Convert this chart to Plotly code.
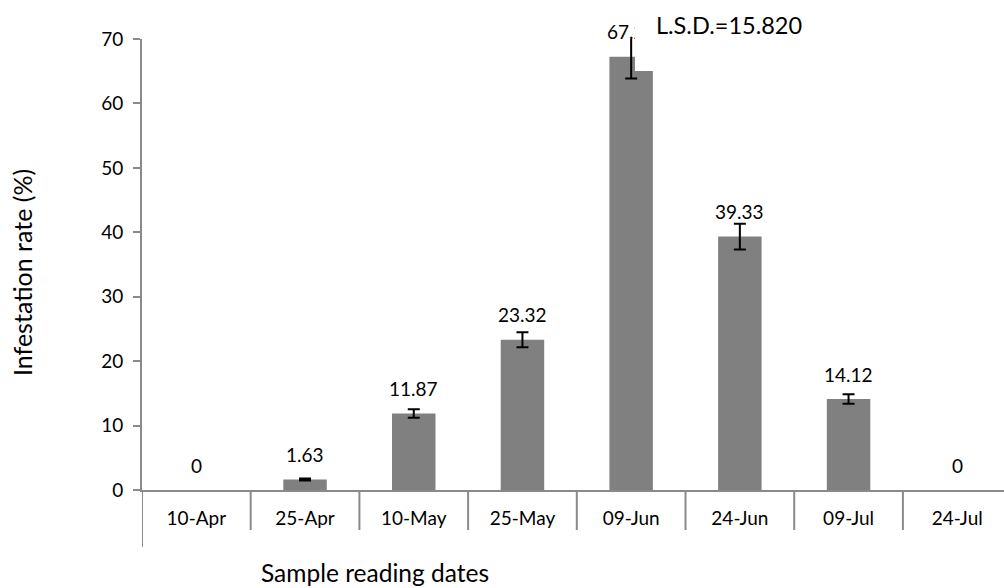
import plotly.graph_objects as go

# Sampling dates and infestation readings
dates = ["10-Apr", "25-Apr", "10-May", "25-May", "09-Jun", "24-Jun", "09-Jul", "24-Jul"]
infestation = [0, 1.63, 11.87, 23.32, 67.25, 39.33, 14.12, 0]
std_err = [0, 0.15, 0.67, 1.17, 3.4, 2.0, 0.75, 0]
lsd_text = "L.S.D.=15.820"
y_ticks = [0, 10, 20, 30, 40, 50, 60, 70]

FONT = "Lato"
AXIS_GREY = "#8a8a8a"
Y_MAX = 70
FIG_W, FIG_H = 1004, 588
PLOT_L, PLOT_BOTTOM, PLOT_TOP = 142, 490, 39   # pixel frame of the plot area

labels = ["0" if v == 0 else f"{v:g}" for v in infestation]
n = len(dates)


def py(px):
    """Paper y for a pixel row."""
    return (PLOT_BOTTOM - px) / (PLOT_BOTTOM - PLOT_TOP)


def px_x(px):
    """Paper x for a pixel column."""
    return (px - PLOT_L) / (FIG_W - PLOT_L)


fig = go.Figure()

# Bars
fig.add_trace(go.Bar(
    x=dates,
    y=infestation,
    width=0.4,
    marker=dict(color="#808080", line=dict(width=0)),
    showlegend=False,
    hoverinfo="skip",
))

# Error bars only where there is a spread (clipped to the 0-70 frame)
with_err = [(d, v, e) for d, v, e in zip(dates, infestation, std_err) if e > 0]
fig.add_trace(go.Scatter(
    x=[d for d, _, _ in with_err],
    y=[v for _, v, _ in with_err],
    mode="markers",
    marker=dict(size=1, opacity=0),
    error_y=dict(type="data", array=[e for _, _, e in with_err], visible=True,
                 color="black", thickness=2, width=6),
    showlegend=False,
    hoverinfo="skip",
))

annotations = []
# Value labels above each bar
for d, v, lab in zip(dates, infestation, labels):
    annotations.append(dict(
        text=lab, x=d, y=v, xref="x", yref="y",
        xanchor="center", yanchor="middle",
        yshift=25, showarrow=False,
        font=dict(family=FONT, size=19, color="black"),
    ))

# White text box of the L.S.D. note (covers what lies beneath it)
annotations.append(dict(
    text=" ", xref="paper", yref="paper",
    x=px_x(635), y=py(0), xanchor="left", yanchor="top",
    width=235, height=71, bgcolor="white", borderpad=0, borderwidth=0,
    showarrow=False,
))
annotations.append(dict(
    text=lsd_text, xref="paper", yref="paper", x=px_x(654), y=py(25),
    xanchor="left", yanchor="middle", showarrow=False,
    font=dict(family=FONT, size=23.5, color="black"),
))

# Axis titles
annotations.append(dict(
    text="Sample reading dates", xref="paper", yref="paper",
    x=px_x(375), y=py(572), xanchor="center", yanchor="middle",
    showarrow=False, font=dict(family=FONT, size=24.5, color="black"),
))
annotations.append(dict(
    text="Infestation rate (%)", xref="paper", yref="paper",
    x=px_x(22), y=py(273), textangle=-90,
    xanchor="center", yanchor="middle",
    showarrow=False, font=dict(family=FONT, size=25, color="black"),
))

shapes = []
# Category divider ticks below the x axis
for i in range(n + 1):
    shapes.append(dict(type="line", xref="x", yref="paper",
                       x0=i - 0.5, x1=i - 0.5, y0=0, y1=py(530),
                       line=dict(color=AXIS_GREY, width=2), layer="above"))
# Left axis continues down past the category row
shapes.append(dict(type="line", xref="x", yref="paper",
                   x0=-0.5, x1=-0.5, y0=0, y1=py(547),
                   line=dict(color=AXIS_GREY, width=2), layer="above"))

fig.update_layout(
    width=FIG_W, height=FIG_H,
    margin=dict(l=PLOT_L, r=0, t=PLOT_TOP, b=FIG_H - PLOT_BOTTOM),
    paper_bgcolor="white", plot_bgcolor="white",
    shapes=shapes,
    annotations=annotations,
    font=dict(family=FONT, color="black"),
)

fig.update_xaxes(
    type="category", categoryorder="array", categoryarray=dates,
    range=[-0.5, n - 0.57],
    showline=True, linecolor=AXIS_GREY, linewidth=2,
    ticks="", showgrid=False, zeroline=False,
    tickfont=dict(family=FONT, size=19, color="black"),
    ticklabelstandoff=10,
)

fig.update_yaxes(
    range=[0, Y_MAX], tickvals=y_ticks,
    showline=True, linecolor=AXIS_GREY, linewidth=2,
    ticks="outside", ticklen=7, tickwidth=2, tickcolor=AXIS_GREY,
    showgrid=False, zeroline=False,
    tickfont=dict(family=FONT, size=19, color="black"),
    ticklabelstandoff=6,
)

fig.write_html("out.html")
